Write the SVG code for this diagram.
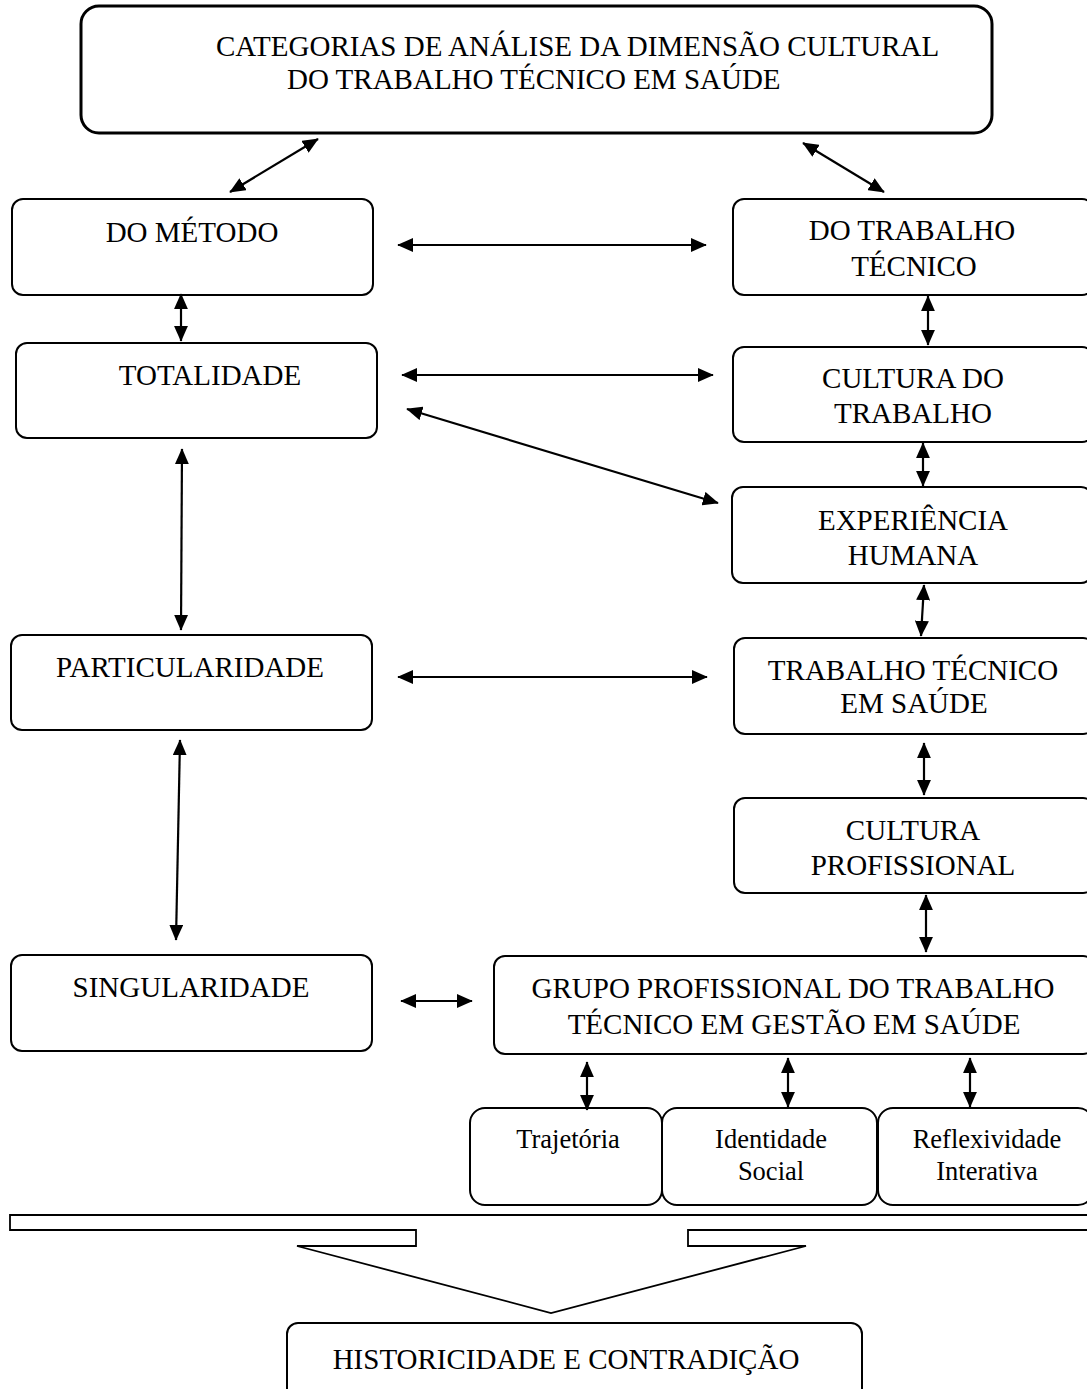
<svg xmlns="http://www.w3.org/2000/svg" width="1087" height="1389" viewBox="0 0 1087 1389">
<defs>
<style>
.box{fill:#fff;stroke:#000;stroke-width:2}
.t{font-family:"Liberation Serif","Times New Roman",serif;font-size:29px;fill:#000;text-anchor:middle}
.s{font-family:"Liberation Serif","Times New Roman",serif;font-size:26.5px;fill:#000;text-anchor:middle}
.c line{stroke:#000;stroke-width:2.2;marker-start:url(#ah);marker-end:url(#ah)}
</style>
<marker id="ah" viewBox="0 0 10 10" refX="9.5" refY="5" markerUnits="userSpaceOnUse" markerWidth="16" markerHeight="14" orient="auto-start-reverse" preserveAspectRatio="none">
<path d="M0,0 L10,5 L0,10 Z" fill="#000"/>
</marker>
</defs>
<rect width="1087" height="1389" fill="#fff"/>
<g id="n-top">
<rect class="box" x="81" y="6" width="911" height="127" rx="18" style="stroke-width:3"/>
<text class="t" x="216" y="56" style="text-anchor:start">CATEGORIAS DE ANÁLISE DA DIMENSÃO CULTURAL</text>
<text class="t" x="287" y="89" style="text-anchor:start">DO TRABALHO TÉCNICO EM SAÚDE</text>
</g>
<g id="n-metodo"><rect class="box" x="12" y="199" width="361" height="96" rx="11"/><text class="t" x="192" y="242">DO MÉTODO</text></g>
<g id="n-totalidade"><rect class="box" x="16" y="343" width="361" height="95" rx="11"/><text class="t" x="210" y="385">TOTALIDADE</text></g>
<g id="n-particularidade"><rect class="box" x="11" y="635" width="361" height="95" rx="11"/><text class="t" x="190" y="677">PARTICULARIDADE</text></g>
<g id="n-singularidade"><rect class="box" x="11" y="955" width="361" height="96" rx="11"/><text class="t" x="191" y="997">SINGULARIDADE</text></g>
<g id="n-dotrabalho"><rect class="box" x="733" y="199" width="360" height="96" rx="11"/><text class="t" x="912" y="240">DO TRABALHO</text><text class="t" x="914" y="276">TÉCNICO</text></g>
<g id="n-culturatrab"><rect class="box" x="733" y="347" width="360" height="95" rx="11"/><text class="t" x="913" y="388">CULTURA DO</text><text class="t" x="913" y="423">TRABALHO</text></g>
<g id="n-experiencia"><rect class="box" x="732" y="487" width="360" height="96" rx="11"/><text class="t" x="913" y="530">EXPERIÊNCIA</text><text class="t" x="913" y="565">HUMANA</text></g>
<g id="n-trabtecnico"><rect class="box" x="734" y="638" width="360" height="96" rx="11"/><text class="t" x="913" y="680">TRABALHO TÉCNICO</text><text class="t" x="914" y="713">EM SAÚDE</text></g>
<g id="n-culturaprof"><rect class="box" x="734" y="798" width="360" height="95" rx="11"/><text class="t" x="913" y="840">CULTURA</text><text class="t" x="913" y="875">PROFISSIONAL</text></g>
<g id="n-grupo"><rect class="box" x="494" y="956" width="600" height="98" rx="11"/><text class="t" x="793" y="998">GRUPO PROFISSIONAL DO TRABALHO</text><text class="t" x="794" y="1034">TÉCNICO EM GESTÃO EM SAÚDE</text></g>
<g id="n-trajetoria"><rect class="box" x="470" y="1108" width="192" height="97" rx="15"/><text class="s" x="568" y="1148">Trajetória</text></g>
<g id="n-identidade"><rect class="box" x="662" y="1108" width="215" height="97" rx="15"/><text class="s" x="771" y="1148">Identidade</text><text class="s" x="771" y="1180">Social</text></g>
<g id="n-reflexividade"><rect class="box" x="878" y="1108" width="215" height="97" rx="15"/><text class="s" x="987" y="1148">Reflexividade</text><text class="s" x="987" y="1180">Interativa</text></g>
<g id="n-brace">
<polygon points="10,1215 1092,1215 1092,1230 688,1230 688,1246 806,1246 551,1313 297,1246 416,1246 416,1230 10,1230" fill="#fff" stroke="#000" stroke-width="1.8" stroke-linejoin="miter"/>
</g>
<g id="n-historicidade"><rect class="box" x="287" y="1323" width="575" height="100" rx="11"/><text class="t" x="566" y="1369">HISTORICIDADE E CONTRADIÇÃO</text></g>
<g class="c" id="connectors">
<line x1="230" y1="192" x2="318" y2="139"/>
<line x1="803" y1="143" x2="884" y2="192"/>
<line x1="398" y1="245" x2="706" y2="245"/>
<line x1="181" y1="294" x2="181" y2="341"/>
<line x1="402" y1="375" x2="713" y2="375"/>
<line x1="407" y1="409" x2="718" y2="503"/>
<line x1="928" y1="296" x2="928" y2="345"/>
<line x1="923" y1="443" x2="923" y2="486"/>
<line x1="924" y1="585" x2="921" y2="636"/>
<line x1="924" y1="743" x2="924" y2="795"/>
<line x1="926" y1="895" x2="926" y2="952"/>
<line x1="182" y1="449" x2="181" y2="630"/>
<line x1="180" y1="740" x2="176" y2="940"/>
<line x1="398" y1="677" x2="707" y2="677"/>
<line x1="401" y1="1001" x2="472" y2="1001"/>
<line x1="587" y1="1062" x2="587" y2="1110"/>
<line x1="788" y1="1058" x2="788" y2="1107"/>
<line x1="970" y1="1058" x2="970" y2="1107"/>
</g>
</svg>
